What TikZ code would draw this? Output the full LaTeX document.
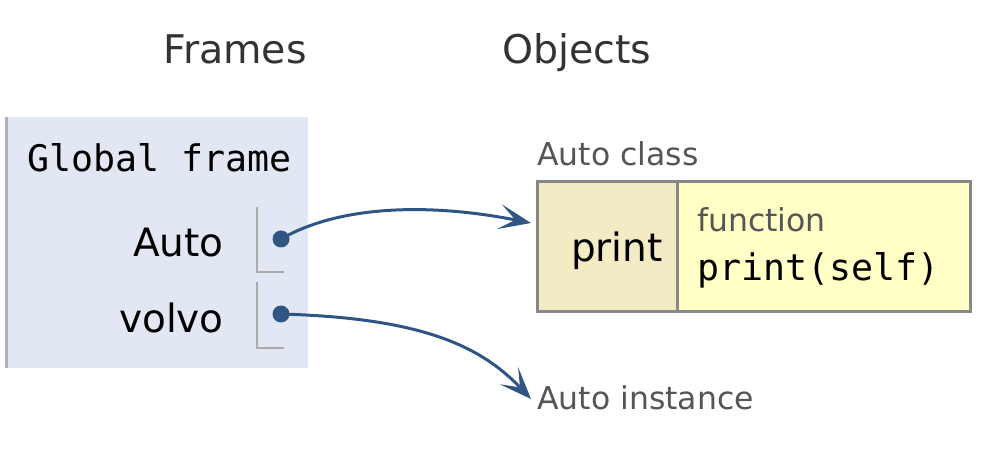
\documentclass[tikz,border=0pt]{standalone}
\usepackage{fontspec}
\setmainfont{DejaVu Sans}
\newfontfamily\monofont{DejaVu Sans Mono}
\usetikzlibrary{arrows.meta}
\definecolor{framefill}{HTML}{E2E8F3}
\definecolor{framebar}{HTML}{AEB3B6}
\definecolor{brack}{HTML}{AAAAAA}
\definecolor{ptr}{HTML}{305585}
\definecolor{objborder}{HTML}{888888}
\definecolor{keyfill}{HTML}{F2EBC3}
\definecolor{valfill}{HTML}{FFFFC6}
\definecolor{headtxt}{HTML}{333333}
\definecolor{labtxt}{HTML}{555555}
\tikzset{
  head/.style={font=\fontsize{39.5}{42}\selectfont, text=headtxt, inner sep=0pt, anchor=base west},
  monotext/.style={font=\monofont\fontsize{36.6}{40}\selectfont, text=black, inner sep=0pt},
  vartext/.style={font=\fontsize{39}{42}\selectfont, text=black, inner sep=0pt, anchor=base east},
  labeltext/.style={font=\fontsize{31.5}{34}\selectfont, text=labtxt, inner sep=0pt, anchor=base west},
  bracket/.style={draw=brack, line width=2.5pt},
  dotnode/.style={circle, fill=ptr, inner sep=0pt, minimum size=17pt},
  pointer/.style={draw=ptr, line width=3pt, -{Stealth[length=32pt, width=25pt, inset=16pt]}},
  cell/.style={draw=objborder, line width=3pt, inner sep=0pt}
}
\begin{document}
\begin{tikzpicture}[x=1pt, y=-1pt]
\useasboundingbox (0,0) rectangle (994,465);
% headers
\node[head] (hframes) at (163,64) {Frames};
\node[head] (hobjects) at (502,64) {Objects};
% global frame
\node[fill=framefill, minimum width=302pt, minimum height=251pt, inner sep=0pt, anchor=north west] (frame) at (6,117) {};
\draw[draw=framebar, line width=3pt] (frame.north west) -- (frame.south west);
\node[monotext, anchor=base west] (gtitle) at (27,172) {Global frame};
\node[vartext] (vauto) at (224,257) {Auto};
\node[vartext] (vvolvo) at (224,332) {volvo};
% brackets
\coordinate (b1t) at (257,207);
\coordinate (b1b) at (257,272);
\coordinate (b1r) at (284,272);
\coordinate (b2t) at (257,282);
\coordinate (b2b) at (257,348);
\coordinate (b2r) at (284,348);
\draw[bracket] (b1t) -- (b1b) -- (b1r);
\draw[bracket] (b2t) -- (b2b) -- (b2r);
\node[dotnode] (d1) at (281,239) {};
\node[dotnode] (d2) at (281,314) {};
% objects
\node[labeltext] (lclass) at (537,166) {Auto class};
\node[cell, fill=keyfill, minimum width=140pt, minimum height=130pt] (kcell) at (607,247) {};
\node[cell, fill=valfill, minimum width=293pt, minimum height=130pt] (vcell) at (823.5,247) {};
\node[vartext] (kprint) at (663,262) {print};
\node[labeltext] (lfunc) at (697,232) {function};
\node[monotext, anchor=base west] (fsig) at (697,281) {print(self)};
\node[labeltext] (linst) at (537,409) {Auto instance};
% pointers
\coordinate (t1) at (531,223);
\coordinate (t2) at (531,399);
\draw[pointer] (d1.center) .. controls (340,205) and (430,203) .. (t1);
\draw[pointer] (d2.center) .. controls (420,318) and (480,345) .. (t2);
\end{tikzpicture}
\end{document}
